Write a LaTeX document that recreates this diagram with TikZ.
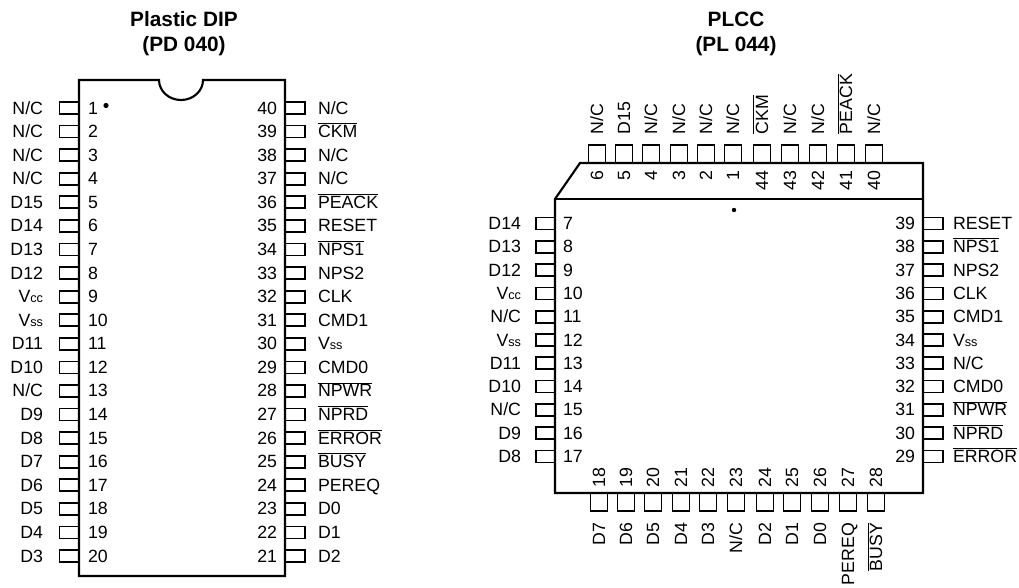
\documentclass[tikz,border=0pt]{standalone}
\usepackage{fontspec}
\setmainfont{Liberation Sans}
\newcommand{\barT}[1]{$\overline{\hbox{#1}}$}
\newcommand{\NC}{N/C}
\newcommand{\Vcc}{V{\fontsize{9.5}{10}\selectfont cc}}
\newcommand{\Vss}{V{\fontsize{9.5}{10}\selectfont ss}}
\tikzset{
  body/.style={draw=black,line width=1.6pt,line join=miter},
  pinbox/.style={draw=black,line width=1.3pt},
  txt/.style={inner sep=0pt,outer sep=0pt,font=\fontsize{13.3}{15}\selectfont,text=black},
  ttl/.style={inner sep=0pt,align=center,font=\bfseries\fontsize{15.6}{18.8}\selectfont,text=black},
}
\begin{document}
\begin{tikzpicture}[x=0.75pt,y=-0.75pt]
\useasboundingbox (0,0) rectangle (1019,587);
\fill[white] (0,0) rectangle (1019,587);
% titles
\node[ttl] (t1) at (184,33.5) {Plastic DIP\\(PD 040)};
\node[ttl] (t2) at (736,33.5) {PLCC\\(PL 044)};
% DIP body
\draw[body] (79,80) -- (159,80) arc[start angle=180,end angle=360,radius=22,y radius=-20] -- (285,80) -- (285,576) -- (79,576) -- cycle;
\fill (106,105.5) circle[radius=2.6];
% DIP left
\foreach \i/\lab in {1/\NC,2/\NC,3/\NC,4/\NC,5/D15,6/D14,7/D13,8/D12,9/\Vcc,10/\Vss,11/D11,12/D10,13/\NC,14/D9,15/D8,16/D7,17/D6,18/D5,19/D4,20/D3}{
  \pgfmathsetmacro{\yy}{108+23.58*(\i-1)}
  \draw[pinbox] (79,\yy-6) -- (59.5,\yy-6) -- (59.5,\yy+6) -- (79,\yy+6);
  \node[txt,anchor=base west] (dn\i) at (88,\yy+6) {\i};
  \node[txt,anchor=base east] (dl\i) at (43,\yy+6) {\lab};
}
% DIP right
\foreach \i/\lab in {40/\NC,39/\barT{CKM},38/\NC,37/\NC,36/\barT{PEACK},35/RESET,34/\barT{NPS1},33/NPS2,32/CLK,31/CMD1,30/\Vss,29/CMD0,28/\barT{NPWR},27/\barT{NPRD},26/\barT{ERROR},25/\barT{BUSY},24/PEREQ,23/D0,22/D1,21/D2}{
  \pgfmathsetmacro{\yy}{108+23.58*(40-\i)}
  \draw[pinbox] (285,\yy-6) -- (305,\yy-6) -- (305,\yy+6) -- (285,\yy+6);
  \node[txt,anchor=base east] (dn\i) at (277,\yy+6) {\i};
  \node[txt,anchor=base west] (dl\i) at (318,\yy+6) {\lab};
}
% PLCC body
\draw[body] (555,199) -- (580,163) -- (923,163) -- (923,493) -- (555,493) -- cycle;
\draw[body] (555,199) -- (923,199);
\fill (734,210) circle[radius=2.2];
% PLCC top
\foreach \i/\xx/\lab in {6/597/\NC,5/624/D15,4/651/\NC,3/679/\NC,2/706/\NC,1/733/\NC,44/762/\barT{CKM},43/790/\NC,42/818/\NC,41/846/\barT{PEACK},40/874/\NC}{
  \draw[pinbox] (\xx-8.5,163) -- (\xx-8.5,145) -- (\xx+8.5,145) -- (\xx+8.5,163);
  \node[txt,rotate=90,anchor=east] (pn\i) at (\xx,171) {\i};
  \node[txt,rotate=90,anchor=base west] (pl\i) at (\xx+6,134) {\lab};
}
% PLCC bottom
\foreach \i/\xx/\lab in {18/599/D7,19/626/D6,20/653/D5,21/681/D4,22/708/D3,23/736/\NC,24/765/D2,25/792/D1,26/820/D0,27/848/PEREQ,28/876/\barT{BUSY}}{
  \draw[pinbox] (\xx-8.5,493) -- (\xx-8.5,511) -- (\xx+8.5,511) -- (\xx+8.5,493);
  \node[txt,rotate=90,anchor=west] (pn\i) at (\xx,487) {\i};
  \node[txt,rotate=90,anchor=base east] (pl\i) at (\xx+6,523) {\lab};
}
% PLCC left
\foreach \i/\lab in {7/D14,8/D13,9/D12,10/\Vcc,11/\NC,12/\Vss,13/D11,14/D10,15/\NC,16/D9,17/D8}{
  \pgfmathsetmacro{\yy}{223.5+23.3*(\i-7)}
  \draw[pinbox] (555,\yy-6) -- (536,\yy-6) -- (536,\yy+6) -- (555,\yy+6);
  \node[txt,anchor=base west] (pn\i) at (563,\yy+6) {\i};
  \node[txt,anchor=base east] (pl\i) at (521,\yy+6) {\lab};
}
% PLCC right
\foreach \i/\lab in {39/RESET,38/\barT{NPS1},37/NPS2,36/CLK,35/CMD1,34/\Vss,33/\NC,32/CMD0,31/\barT{NPWR},30/\barT{NPRD},29/\barT{ERROR}}{
  \pgfmathsetmacro{\yy}{223.5+23.3*(39-\i)}
  \draw[pinbox] (923,\yy-6) -- (943,\yy-6) -- (943,\yy+6) -- (923,\yy+6);
  \node[txt,anchor=base east] (pn\i) at (915,\yy+6) {\i};
  \node[txt,anchor=base west] (pl\i) at (953,\yy+6) {\lab};
}
\end{tikzpicture}
\end{document}
